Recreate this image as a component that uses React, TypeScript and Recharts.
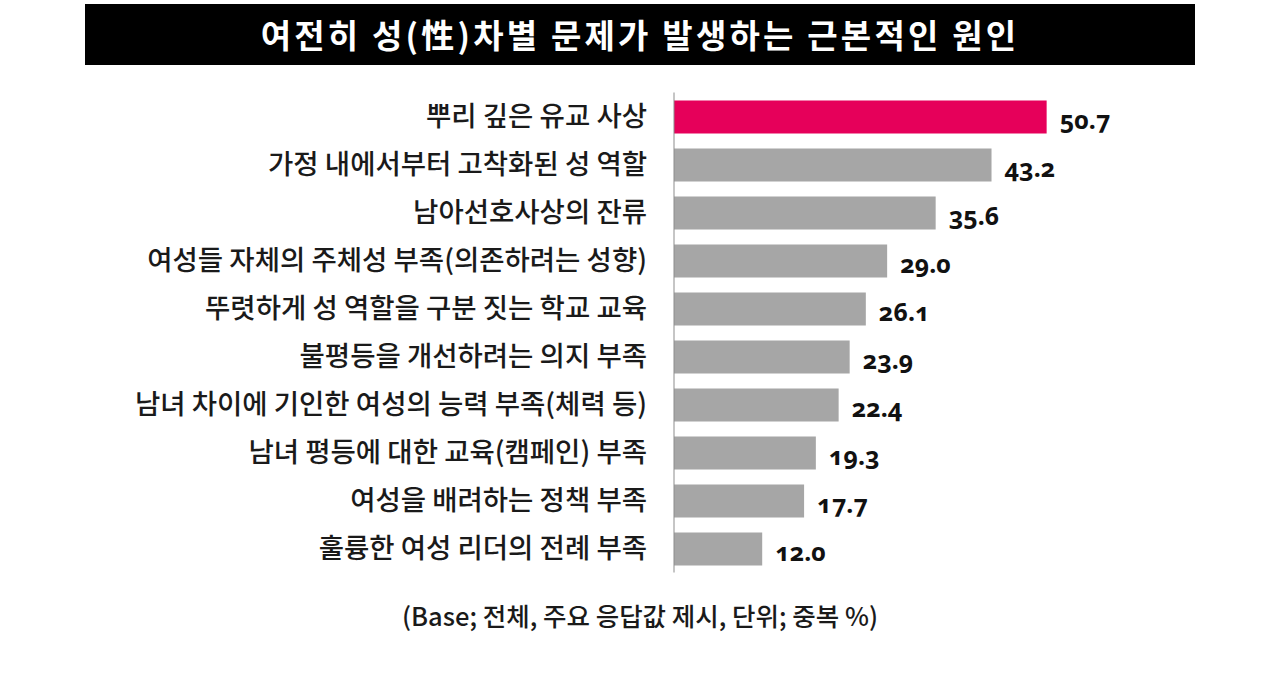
import { BarChart, Bar, XAxis, YAxis, Cell, LabelList } from 'recharts';

const causes = [
  '뿌리 깊은 유교 사상',
  '가정 내에서부터 고착화된 성 역할',
  '남아선호사상의 잔류',
  '여성들 자체의 주체성 부족(의존하려는 성향)',
  '뚜렷하게 성 역할을 구분 짓는 학교 교육',
  '불평등을 개선하려는 의지 부족',
  '남녀 차이에 기인한 여성의 능력 부족(체력 등)',
  '남녀 평등에 대한 교육(캠페인) 부족',
  '여성을 배려하는 정책 부족',
  '훌륭한 여성 리더의 전례 부족',
];
const shares = [50.7, 43.2, 35.6, 29.0, 26.1, 23.9, 22.4, 19.3, 17.7, 12.0];

const data = causes.map((name, i) => ({ name, value: shares[i] }));

const KR = '"Noto Sans CJK KR", "Noto Sans", sans-serif';

const ValueLabel = (props: any) => {
  const { x, y, width, height, value } = props;
  return (
    <text
      x={x + width + 13}
      y={y + height / 2 + 5}
      dominantBaseline="middle"
      fontFamily='"Noto Sans", sans-serif'
      fontWeight={700}
      fontSize={25}
      fill="#111"
      style={{ fontVariantNumeric: 'oldstyle-nums' }}
    >
      {Number(value).toFixed(1)}
    </text>
  );
};

const App = () => {
  return (
    <div style={{ position: 'absolute', left: 0, top: 0, width: 1280, height: 685, background: '#fff' }}>
      <div
        style={{
          position: 'absolute', left: 85, top: 4, width: 1110, height: 61,
          background: '#000', color: '#fff', fontFamily: KR, fontWeight: 700,
          fontSize: 33, letterSpacing: 3.2, lineHeight: '61px', textAlign: 'center',
        }}
      >
        여전히 성(性)차별 문제가 발생하는 근본적인 원인
      </div>
      <div style={{ position: 'absolute', left: 0, top: 0 }}>
        <BarChart
          width={1280}
          height={685}
          data={data}
          layout="vertical"
          margin={{ top: 92.5, right: 165, bottom: 112.5, left: 74 }}
          barSize={33}
        >
          <XAxis type="number" domain={[0, 60]} hide />
          <YAxis
            type="category"
            dataKey="name"
            width={600}
            tickLine={false}
            tickMargin={21}
            axisLine={{ stroke: '#8c8c8c', strokeWidth: 1 }}
            tick={{ fontFamily: KR, fontSize: 27.5, fontWeight: 500, fill: '#1a1a1a' }}
            interval={0}
          />
          <Bar dataKey="value" isAnimationActive={false}>
            {data.map((d, i) => (
              <Cell key={d.name} fill={i === 0 ? '#E6005A' : '#A6A6A6'} />
            ))}
            <LabelList dataKey="value" content={ValueLabel} />
          </Bar>
        </BarChart>
      </div>
      <div
        style={{
          position: 'absolute', left: 0, top: 600, width: 1280, textAlign: 'center',
          fontFamily: KR, fontSize: 25.5, fontWeight: 500, color: '#1a1a1a', lineHeight: '30px',
        }}
      >
        (Base; 전체, 주요 응답값 제시, 단위; 중복 %)
      </div>
    </div>
  );
};

export default App;
